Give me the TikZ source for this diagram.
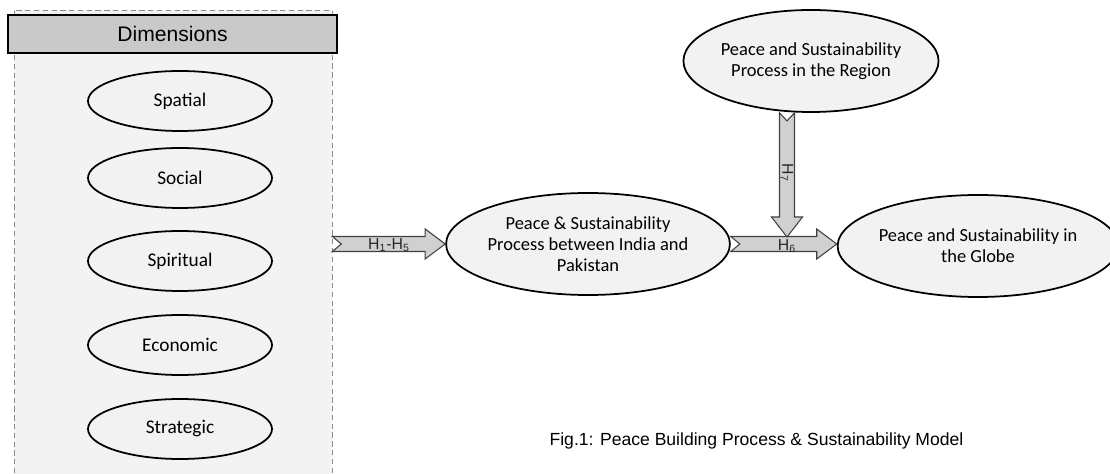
\documentclass[tikz,border=0pt]{standalone}
\usepackage{fontspec}
\setmainfont{Carlito}
\newfontfamily\arialfont{Liberation Sans}
\usetikzlibrary{positioning}
\usetikzlibrary{shapes.geometric}
\usetikzlibrary{calc}

\definecolor{panelgray}{HTML}{F3F3F3}
\definecolor{headgray}{HTML}{C9C9C9}
\definecolor{arrowgray}{HTML}{D0D0D0}
\definecolor{ellgray}{HTML}{F2F2F2}

\tikzset{
  panel/.style={draw=black!45, densely dashed, fill=panelgray, minimum width=6.36cm, minimum height=9.4cm, inner sep=0pt},
  head/.style={draw, line width=1pt, fill=headgray, minimum width=6.58cm, minimum height=0.76cm, inner sep=0pt, font=\arialfont\fontsize{12}{14}\selectfont},
  dim/.style={ellipse, draw, line width=1pt, fill=ellgray, inner sep=0pt, minimum width=3.68cm, minimum height=1.2cm, font=\fontsize{11}{13}\selectfont},
  proc/.style={ellipse, draw, line width=1pt, fill=ellgray, inner sep=0pt, minimum height=2.04cm, align=center, font=\fontsize{10.5}{12}\selectfont},
  barrow/.style={draw=black!75, fill=arrowgray, line width=0.6pt, line join=miter},
  harrow/.style={barrow, to path={let \p1=(\tikztostart), \p2=(\tikztotarget) in
    (\x1,\y1+1.5mm) -- (\x2-4mm,\y1+1.5mm) -- (\x2-4mm,\y1+3mm) -- (\x2,\y1)
    -- (\x2-4mm,\y1-3mm) -- (\x2-4mm,\y1-1.5mm) -- (\x1,\y1-1.5mm) -- (\x1+1.8mm,\y1) -- cycle}},
  varrow/.style={barrow, to path={let \p1=(\tikztostart), \p2=(\tikztotarget) in
    (\x1-1.5mm,\y1) -- (\x1-1.5mm,\y2+4mm) -- (\x1-3.1mm,\y2+4mm) -- (\x1,\y2)
    -- (\x1+3.1mm,\y2+4mm) -- (\x1+1.5mm,\y2+4mm) -- (\x1+1.5mm,\y1) -- (\x1,\y1-1.6mm) -- cycle}},
  hlab/.style={font=\arialfont\fontsize{9}{10}\selectfont, inner sep=0pt, text=black!85},
  caption/.style={font=\arialfont\fontsize{10}{12}\selectfont, inner sep=0pt}
}

\begin{document}
\begin{tikzpicture}
  \useasboundingbox (0,0) rectangle (22.2,-9.48);

  % Dimensions column
  \node[panel] (panel) at (3.46,-4.9) {};
  \node[head] (head) at (3.45,-0.68) {Dimensions};
  \foreach \txt/\y [count=\i] in {Spatial/-2.02, Social/-3.56, Spiritual/-5.22, Economic/-6.9, Strategic/-8.58}
    {\node[dim] (d\i) at (3.6,\y) {\txt};}

  % Processes
  \node[proc, minimum width=5.46cm] (mid) at (11.76,-4.88) {Peace \& Sustainability\\Process between India and\\Pakistan};
  \node[proc, minimum width=4.44cm] (region) at (16.22,-1.22) {Peace and Sustainability\\Process in the Region};
  \node[proc, minimum width=5.28cm] (globe) at (19.56,-4.92) {Peace and Sustainability in\\the Globe};

  % Hypotheses arrows
  \coordinate (a1s) at (panel.east |- mid.west);
  \coordinate (h7end) at (15.74,-4.74);
  \coordinate (h7beg) at (h7end |- region.south);
  \draw[harrow] (a1s) to (mid.west);
  \draw[harrow] (mid.east) to (globe.west);
  \draw[varrow] (h7beg) to (h7end);

  \node[hlab] (h15) at (7.78,-4.9) {H\textsubscript{1}-H\textsubscript{5}};
  \node[hlab] (h6) at (15.74,-4.92) {H\textsubscript{6}};
  \node[hlab, rotate=-90] (h7) at (15.74,-3.46) {H\textsubscript{7}};

  \node[caption] (fig) at (15.13,-8.82) {Fig.1: Peace Building Process \& Sustainability Model};
\end{tikzpicture}
\end{document}
